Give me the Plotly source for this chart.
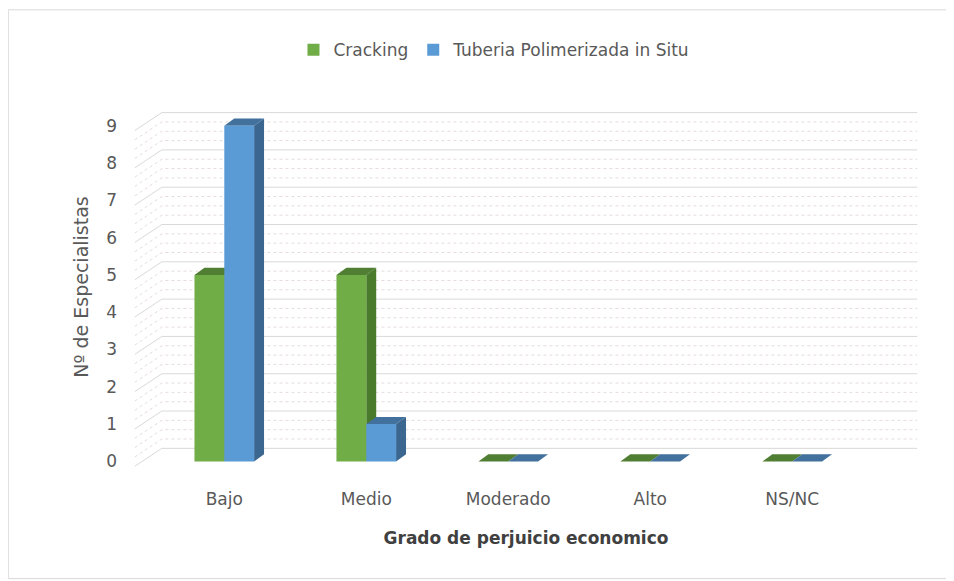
import plotly.graph_objects as go

# Datos
categorias = ["Bajo", "Medio", "Moderado", "Alto", "NS/NC"]
cracking = [5, 5, 0, 0, 0]
tuberia = [9, 1, 0, 0, 0]
ticks_y = list(range(0, 10))

series = [
    # nombre, valores, frente, tapa, lado
    ("Cracking", cracking, "#70AD47", "#507E32", "#4A7A2C"),
    ("Tuberia Polimerizada in Situ", tuberia, "#5B9BD5", "#41719C", "#3A6690"),
]

xs = list(range(len(categorias)))
ancho = 0.21          # ancho de cada barra (unidades de categoria)
prof_x, prof_y = 0.07, 0.19   # profundidad de las barras
# paredes del grafico 3D
pared_x0, pared_x1, pared_xr = -0.63, -0.44, 4.88
pared_dy0, pared_dy1 = -0.13, 0.35

fig = go.Figure()
shapes = []

# Paredes: lineas principales y secundarias
for k in [t + f for t in ticks_y for f in (0, 0.25, 0.5, 0.75)]:
    if k > ticks_y[-1]:
        continue
    mayor = k == int(k)
    estilo = dict(color="#D9D9D9", width=1) if mayor else dict(color="#E6DCDC", width=1, dash="dot")
    shapes.append(dict(type="path", layer="below",
                       path=f"M{pared_x0},{k + pared_dy0} L{pared_x1},{k + pared_dy1} L{pared_xr},{k + pared_dy1}",
                       line=estilo))

# Barras
for j, (nombre, vals, c_frente, c_tapa, c_lado) in enumerate(series):
    fig.add_trace(go.Bar(
        x=xs, y=vals, name=nombre,
        marker=dict(color=c_frente, line=dict(width=0)),
    ))

# Caras de profundidad (tapa y lado) a partir de los datos
for i in xs:
    for j, (nombre, vals, c_frente, c_tapa, c_lado) in enumerate(series):
        v = vals[i]
        x0 = i - ancho + j * ancho
        x1 = x0 + ancho
        if v > 0:
            shapes.append(dict(type="path", layer="below", fillcolor=c_lado, line=dict(width=0),
                               path=f"M{x1},0 L{x1},{v} L{x1 + prof_x},{v + prof_y} L{x1 + prof_x},{prof_y} Z"))
        shapes.append(dict(type="path", layer="below", fillcolor=c_tapa, line=dict(width=0),
                           path=f"M{x0},{v} L{x1},{v} L{x1 + prof_x},{v + prof_y} L{x0 + prof_x},{v + prof_y} Z"))

# Borde del grafico
shapes.append(dict(type="rect", xref="paper", yref="paper",
                   x0=-0.157, x1=1.034, y0=-0.31, y1=1.27,
                   line=dict(color="#D9D9D9", width=1)))

fuente = "DejaVu Sans, Calibri, sans-serif"
fig.update_layout(
    width=954, height=581,
    margin=dict(l=124, r=42, t=99, b=122, autoexpand=False),
    paper_bgcolor="white", plot_bgcolor="white",
    barmode="group", bargap=0.58, bargroupgap=0,
    shapes=shapes,
    font=dict(family=fuente, size=17, color="#595959"),
    legend=dict(orientation="h", x=0.46, xanchor="center", y=1.158, yanchor="middle",
                font=dict(size=17, color="#595959"), itemwidth=30),
    xaxis=dict(range=[-0.65, 4.9], tickvals=xs, ticktext=categorias, automargin=False,
               showgrid=False, zeroline=False, showline=False, ticks="",
               ticklabelstandoff=20,
               title=dict(text="<b>Grado de perjuicio economico</b>", standoff=24,
                          font=dict(size=17, color="#404040"))),
    yaxis=dict(range=[-0.15, 9.5], tickvals=ticks_y, automargin=False,
               showgrid=False, zeroline=False, showline=False, ticks="",
               ticklabelstandoff=14,
               title=dict(text="Nº de Especialistas", standoff=12,
                          font=dict(size=19, color="#595959"))),
)

fig.write_html("out.html")
